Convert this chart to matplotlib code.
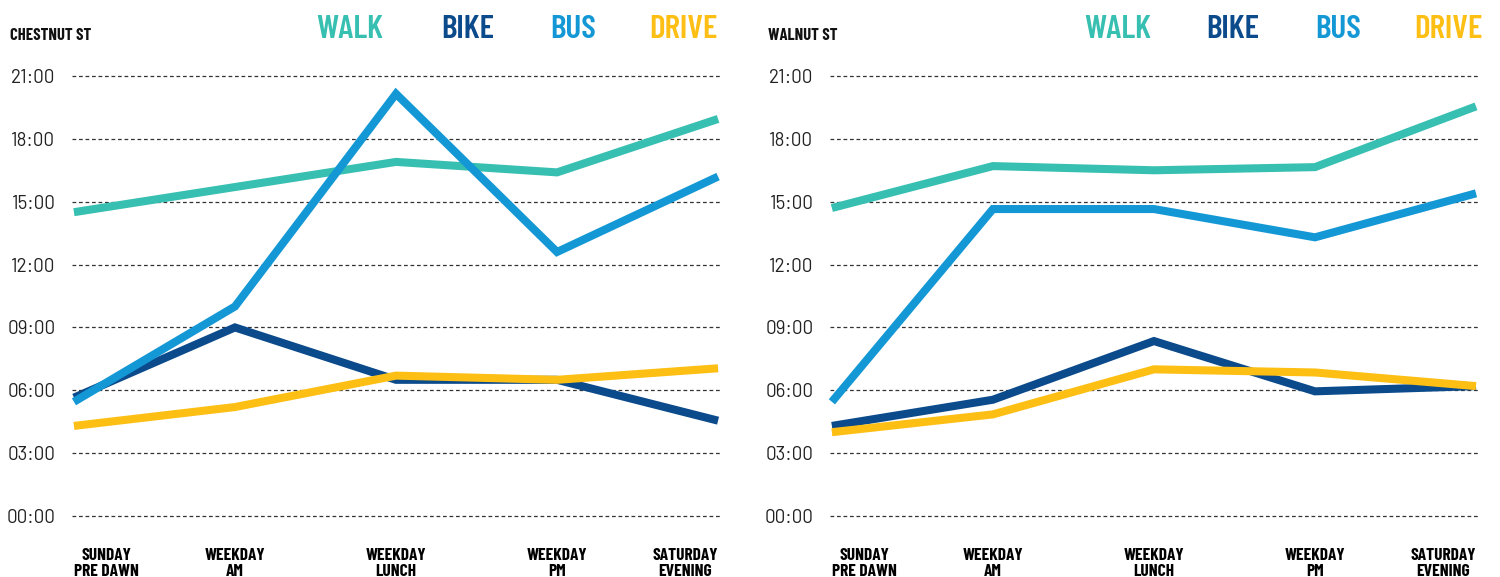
import numpy as np
import matplotlib.pyplot as plt
import matplotlib.font_manager as fm
from matplotlib.ticker import FuncFormatter

# pick a condensed family if one is around, DIN-like first
installed = set(f.name for f in fm.fontManager.ttflist)
cond = 'DejaVu Sans'
for name in ['Barlow Condensed', 'Roboto Condensed', 'Saira SemiCondensed', 'Sofia Sans Condensed', 'Liberation Sans Narrow']:
    if name in installed:
        cond = name
        break
regular = 'Barlow' if 'Barlow' in installed else cond
plt.rcParams['font.family'] = [cond, 'DejaVu Sans']

##################
# data (hours of day)
##################
periods = ['SUNDAY\nPRE DAWN', 'WEEKDAY\nAM', 'WEEKDAY\nLUNCH', 'WEEKDAY\nPM', 'SATURDAY\nEVENING']
modes = ['WALK', 'BIKE', 'BUS', 'DRIVE']
colors = {'WALK': '#37bfb1', 'BIKE': '#0b4a8b', 'BUS': '#1498d5', 'DRIVE': '#fdbf14'}

chestnut_walk = [14.5, 15.7, 16.9, 16.4, 18.95]
chestnut_bike = [5.65, 9.0, 6.5, 6.5, 4.55]
chestnut_bus = [5.45, 10.0, 20.15, 12.6, 16.2]
chestnut_drive = [4.3, 5.2, 6.7, 6.5, 7.05]

walnut_walk = [14.7, 16.7, 16.5, 16.65, 19.55]
walnut_bike = [4.3, 5.55, 8.35, 5.95, 6.2]
walnut_bus = [5.45, 14.65, 14.65, 13.3, 15.4]
walnut_drive = [4.0, 4.85, 7.0, 6.85, 6.2]

yticks = np.arange(0, 22, 3)

streets = [
    ('CHESTNUT ST', {'WALK': chestnut_walk, 'BIKE': chestnut_bike, 'BUS': chestnut_bus, 'DRIVE': chestnut_drive}),
    ('WALNUT ST', {'WALK': walnut_walk, 'BIKE': walnut_bike, 'BUS': walnut_bus, 'DRIVE': walnut_drive}),
]

fig = plt.figure(figsize=(15, 5.77), dpi=100)
axes = [fig.add_axes([0.048, 0.1057, 0.432, 0.7626]),
        fig.add_axes([0.5533, 0.1057, 0.432, 0.7626])]

legend_x = [[0.429, 0.611, 0.773, 0.997], [0.444, 0.622, 0.784, 1.008]]

x = np.arange(len(periods))
for ax, (street, series), lx in zip(axes, streets, legend_x):
    for mode in ['WALK', 'BIKE', 'DRIVE', 'BUS']:
        ax.plot(x, series[mode], color=colors[mode], lw=5.8, solid_joinstyle='miter',
                solid_capstyle='butt', clip_on=False, zorder=3)
    ax.set_xlim(-0.012, 4.012)
    ax.set_ylim(0, 21)
    ax.set_yticks(yticks)
    ax.yaxis.set_major_formatter(FuncFormatter(lambda v, p: '%02d:00' % v))
    for lab in ax.get_yticklabels():
        lab.set_family([regular, 'DejaVu Sans'])
    ax.set_xticks(x)
    ax.set_xticklabels(periods, fontweight='bold', fontsize=12.5, linespacing=1.05,
                       multialignment='center')
    labs = ax.get_xticklabels()
    labs[0].set_horizontalalignment('left')
    labs[-1].set_horizontalalignment('right')
    ax.tick_params(axis='x', length=0, pad=23)
    ax.tick_params(axis='y', length=0, pad=12, labelsize=13.5, labelcolor='#222222')
    ax.grid(axis='y', color='#333333', lw=0.9, linestyle=(0, (3, 2.2)), zorder=1)
    for gl in ax.get_ygridlines():
        gl.set_clip_on(False)
    for s in ax.spines.values():
        s.set_visible(False)
    ax.text(-0.0957, 1.093, street, transform=ax.transAxes, fontsize=12, fontweight='bold',
            ha='left', va='center', color='#111111')
    for i, mode in enumerate(modes):
        ax.text(lx[i], 1.105, mode, transform=ax.transAxes, fontsize=24, fontweight='semibold',
                color=colors[mode], ha='right' if mode == 'DRIVE' else 'center', va='center')

fig.savefig('out.png', dpi=100)
